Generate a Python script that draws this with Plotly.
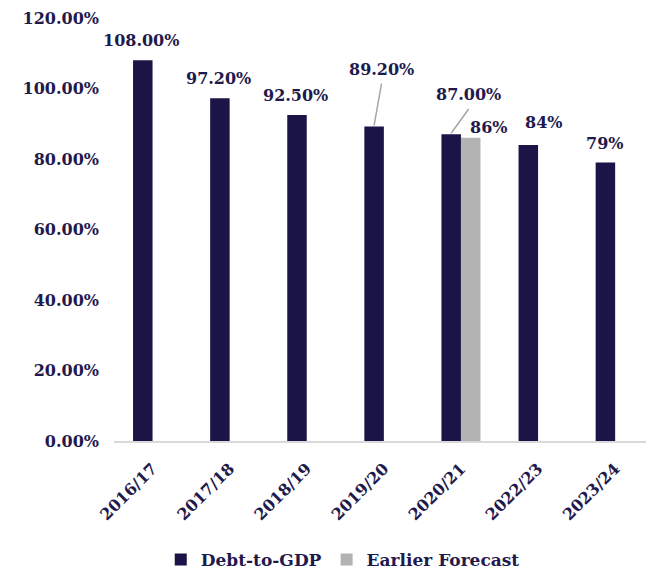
import plotly.graph_objects as go

categories = ["2016/17", "2017/18", "2018/19", "2019/20", "2020/21", "2022/23", "2023/24"]
debt_to_gdp = [108.0, 97.2, 92.5, 89.2, 87.0, 84.0, 79.0]
debt_labels = ["108.00%", "97.20%", "92.50%", "89.20%", "87.00%", "84%", "79%"]
forecast = [None, None, None, None, 86.0, None, None]
forecast_labels = ["", "", "", "", "86%", "", ""]
y_ticks = [0, 20, 40, 60, 80, 100, 120]
y_tick_labels = ["0.00%", "20.00%", "40.00%", "60.00%", "80.00%", "100.00%", "120.00%"]

NAVY = "#1b1446"
GRAY = "#b3b3b3"
TXT = "#1f1a4d"
FONT = "Georgia, 'DejaVu Serif', serif"

# label placement offsets (category units, percentage points)
dlab_dx = [-0.15, -0.14, -0.14, -0.03, 0.10, 0.07, -0.14]
dlab_dy = [5.6, 5.5, 5.4, 16.2, 11.2, 6.4, 5.5]
leader = [False, False, False, True, True, False, False]

fig = go.Figure()
fig.add_trace(go.Bar(x=list(range(len(categories))), y=debt_to_gdp, name="Debt-to-GDP",
                     marker=dict(color=NAVY, line=dict(width=0))))
fig.add_trace(go.Bar(x=list(range(len(categories))), y=forecast, name="Earlier Forecast",
                     marker=dict(color=GRAY, line=dict(width=0))))

for i, (v, t) in enumerate(zip(debt_to_gdp, debt_labels)):
    fig.add_annotation(x=i + dlab_dx[i], y=v + dlab_dy[i], xref="x", yref="y", text=t,
                       showarrow=False, font=dict(family=FONT, size=16, color=TXT, weight="bold"))
    if leader[i]:
        fig.add_shape(type="line", xref="x", yref="y",
                      x0=i - 0.127, y0=v + 0.3,
                      x1=i + dlab_dx[i], y1=v + dlab_dy[i] - 4.0,
                      line=dict(color="#a6a6a6", width=1.5))
for i, (v, t) in enumerate(zip(forecast, forecast_labels)):
    if v is not None:
        fig.add_annotation(x=i + 0.36, y=v + 3.0, xref="x", yref="y", text=t,
                           showarrow=False, font=dict(family=FONT, size=16, color=TXT, weight="bold"))

fig.update_layout(
    width=646, height=572,
    margin=dict(l=114, r=0, t=18, b=131, autoexpand=False),
    paper_bgcolor="white", plot_bgcolor="white",
    barmode="group", bargap=0.494, bargroupgap=0,
    showlegend=True,
    legend=dict(orientation="h", x=0.43, xanchor="center", y=0.021, yanchor="middle",
                yref="container",
                font=dict(family=FONT, size=17, color=TXT, weight="bold"),
                traceorder="normal", itemwidth=30),
    font=dict(family=FONT, color=TXT),
)
fig.update_xaxes(range=[-0.5, 6.40], tickmode="array", tickvals=list(range(len(categories))),
                 ticktext=categories, tickangle=-45, automargin=False,
                 tickfont=dict(family=FONT, size=16, color=TXT, weight="bold"),
                 showline=True, linecolor="#d9d9d9", linewidth=2, showgrid=False,
                 ticks="", ticklabelstandoff=10, zeroline=False)
fig.update_yaxes(range=[0, 120], tickmode="array", tickvals=y_ticks, ticktext=y_tick_labels,
                 automargin=False,
                 tickfont=dict(family=FONT, size=16, color=TXT, weight="bold"),
                 showgrid=False, zeroline=False, showline=False, ticks="",
                 ticklabelstandoff=14)

fig.write_html("out.html")
